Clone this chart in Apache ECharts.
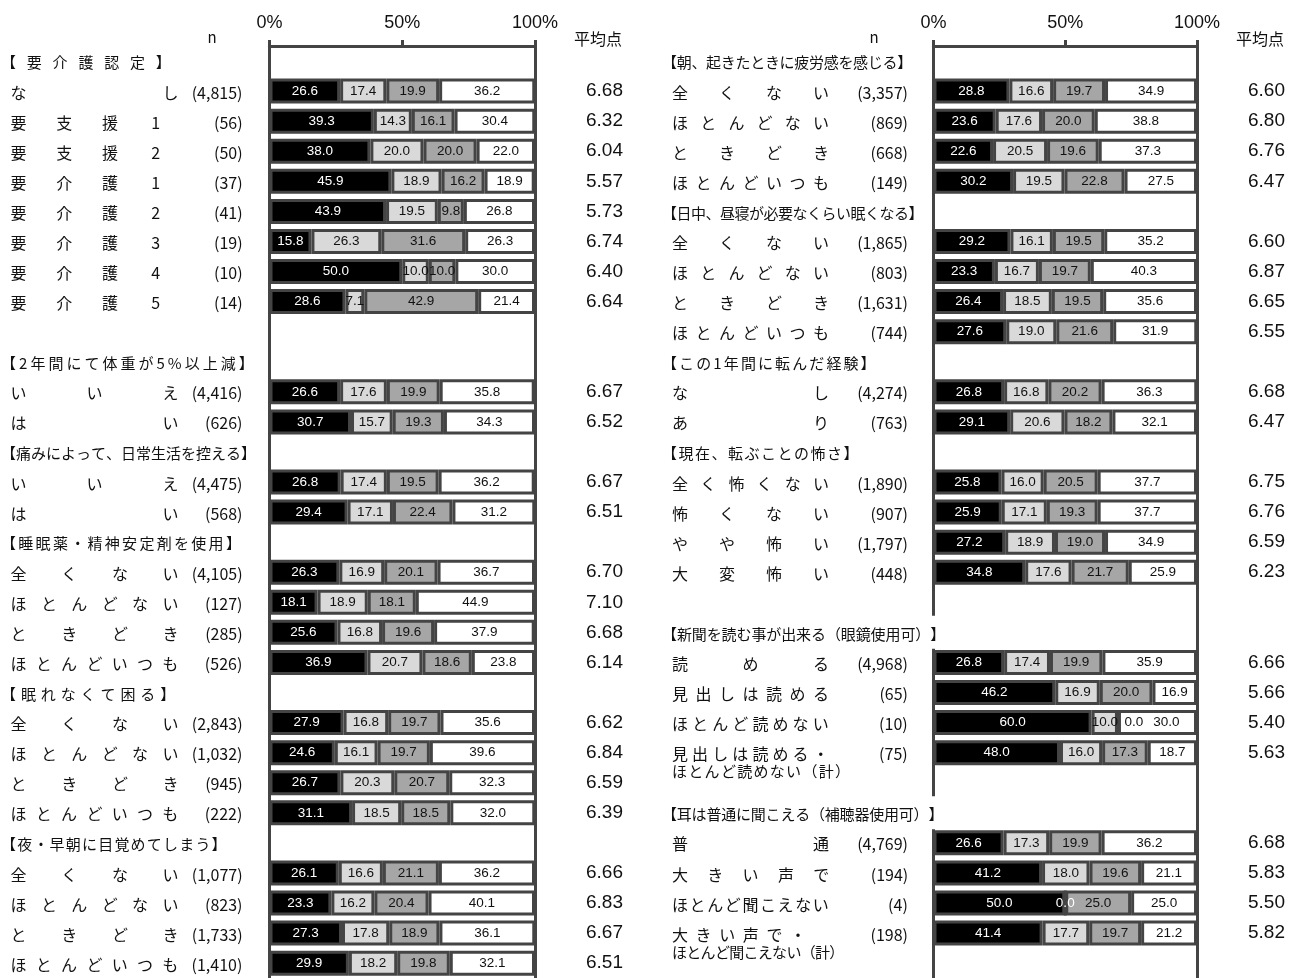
<!DOCTYPE html>
<html><head><meta charset="utf-8">
<script src="https://cdn.jsdelivr.net/npm/echarts@6/dist/echarts.min.js"></script>
<style>html,body{margin:0;padding:0;background:#fff}#c{width:1301px;height:978px}</style>
</head><body><div id="c"></div>
<script>
// ---------------- DATA ----------------
const tickLabels = ['0%', '50%', '100%'];

const leftNames = ['【要介護認定】','なし','要支援1','要支援2','要介護1','要介護2','要介護3','要介護4','要介護5','',
  '【2年間にて体重が5%以上減】','いいえ','はい','【痛みによって、日常生活を控える】','いいえ','はい',
  '【睡眠薬・精神安定剤を使用】','全くない','ほとんどない','ときどき','ほとんどいつも',
  '【眠れなくて困る】','全くない','ほとんどない','ときどき','ほとんどいつも',
  '【夜・早朝に目覚めてしまう】','全くない','ほとんどない','ときどき','ほとんどいつも',''];
const leftN = ['','4,815','56','50','37','41','19','10','14','','','4,416','626','','4,475','568','',
  '4,105','127','285','526','','2,843','1,032','945','222','','1,077','823','1,733','1,410',''];
const leftS1 = [null,26.6,39.3,38.0,45.9,43.9,15.8,50.0,28.6,null,null,26.6,30.7,null,26.8,29.4,null,26.3,18.1,25.6,36.9,null,27.9,24.6,26.7,31.1,null,26.1,23.3,27.3,29.9,null];
const leftS2 = [null,17.4,14.3,20.0,18.9,19.5,26.3,10.0,7.1,null,null,17.6,15.7,null,17.4,17.1,null,16.9,18.9,16.8,20.7,null,16.8,16.1,20.3,18.5,null,16.6,16.2,17.8,18.2,null];
const leftS3 = [null,19.9,16.1,20.0,16.2,9.8,31.6,10.0,42.9,null,null,19.9,19.3,null,19.5,22.4,null,20.1,18.1,19.6,18.6,null,19.7,19.7,20.7,18.5,null,21.1,20.4,18.9,19.8,null];
const leftS4 = [null,36.2,30.4,22.0,18.9,26.8,26.3,30.0,21.4,null,null,35.8,34.3,null,36.2,31.2,null,36.7,44.9,37.9,23.8,null,35.6,39.6,32.3,32.0,null,36.2,40.1,36.1,32.1,null];
const leftAvg = ['','6.68','6.32','6.04','5.57','5.73','6.74','6.40','6.64','','','6.67','6.52','','6.67','6.51','',
  '6.70','7.10','6.68','6.14','','6.62','6.84','6.59','6.39','','6.66','6.83','6.67','6.51',''];

const rightNames = ['【朝、起きたときに疲労感を感じる】','全くない','ほとんどない','ときどき','ほとんどいつも',
  '【日中、昼寝が必要なくらい眠くなる】','全くない','ほとんどない','ときどき','ほとんどいつも',
  '【この1年間に転んだ経験】','なし','あり','【現在、転ぶことの怖さ】','全く怖くない','怖くない','やや怖い','大変怖い','',
  '【新聞を読む事が出来る（眼鏡使用可）】','読める','見出しは読める','ほとんど読めない','見出しは読める・\nほとんど読めない（計）','',
  '【耳は普通に聞こえる（補聴器使用可）】','普通','大きい声で','ほとんど聞こえない','大きい声で・\nほとんど聞こえない（計）',''];
const rightN = ['','3,357','869','668','149','','1,865','803','1,631','744','','4,274','763','','1,890','907','1,797','448','',
  '','4,968','65','10','75','','','4,769','194','4','198',''];
const rightS1 = [null,28.8,23.6,22.6,30.2,null,29.2,23.3,26.4,27.6,null,26.8,29.1,null,25.8,25.9,27.2,34.8,null,null,26.8,46.2,60.0,48.0,null,null,26.6,41.2,50.0,41.4,null];
const rightS2 = [null,16.6,17.6,20.5,19.5,null,16.1,16.7,18.5,19.0,null,16.8,20.6,null,16.0,17.1,18.9,17.6,null,null,17.4,16.9,10.0,16.0,null,null,17.3,18.0,0.0,17.7,null];
const rightS3 = [null,19.7,20.0,19.6,22.8,null,19.5,19.7,19.5,21.6,null,20.2,18.2,null,20.5,19.3,19.0,21.7,null,null,19.9,20.0,0.0,17.3,null,null,19.9,19.6,25.0,19.7,null];
const rightS4 = [null,34.9,38.8,37.3,27.5,null,35.2,40.3,35.6,31.9,null,36.3,32.1,null,37.7,37.7,34.9,25.9,null,null,35.9,16.9,30.0,18.7,null,null,36.2,21.1,25.0,21.2,null];
const rightAvg = ['','6.60','6.80','6.76','6.47','','6.60','6.87','6.65','6.55','','6.68','6.47','','6.75','6.76','6.59','6.23','',
  '','6.66','5.66','5.40','5.63','','','6.68','5.83','5.50','5.82',''];

// ---------------- LAYOUT / STYLE ----------------
const PITCH = 30.07;
const LAYOUT = {
  L: {gridLeft: 269.5, gridWidth: 265.5, rows: 32, anchor: 1, nameStart: 10.5, nameW: 168, nRight: 242.5, avgMargin: 88},
  R: {gridLeft: 933.5, gridWidth: 263.5, rows: 31, anchor: 662, nameStart: 672, nameW: 157, nRight: 908, avgMargin: 88}
};
const headerW = {
  '【要介護認定】': 170, '【2年間にて体重が5%以上減】': 253, '【痛みによって、日常生活を控える】': 255,
  '【睡眠薬・精神安定剤を使用】': 240, '【眠れなくて困る】': 174, '【夜・早朝に目覚めてしまう】': 225,
  '【朝、起きたときに疲労感を感じる】': 251, '【日中、昼寝が必要なくらい眠くなる】': 261,
  '【この1年間に転んだ経験】': 214, '【現在、転ぶことの怖さ】': 197,
  '【新聞を読む事が出来る（眼鏡使用可）】': 284, '【耳は普通に聞こえる（補聴器使用可）】': 281
};
const nameWOverride = {'大きい声で・': 134, '要支援1': 153, '要支援2': 153, '要介護1': 153, '要介護2': 153,
  '要介護3': 153, '要介護4': 153, '要介護5': 153};
const line2W = {'ほとんど読めない（計）': 178, 'ほとんど聞こえない（計）': 172};

const JP = 'Noto Sans CJK JP';
const NUM = 'Liberation Sans';
const LINE = '#444';
const base = {
  a: {fontFamily: JP, fontSize: 16, lineHeight: 18, color: '#111'},
  h: {fontFamily: JP, fontSize: 15, lineHeight: 18, color: '#111'},
  b: {fontFamily: JP, fontSize: 15, lineHeight: 17, color: '#111'},
  s: {fontFamily: JP, fontSize: 10, lineHeight: 10, color: '#111'},
  n: {fontFamily: JP, fontSize: 16, lineHeight: 18, color: '#111', align: 'right'}
};
const fsOf = {a: 16, h: 15, b: 15};
const ctx = document.createElement('canvas').getContext('2d');
function measure(c, fs) { ctx.font = fs + 'px "' + JP + '"'; return ctx.measureText(c).width; }
const rich = {};
function tok(prefix, w, c, al) {
  const r = Math.round(w * 10);
  const key = prefix + r + (al ? 'c' : '');
  if (!rich[key]) rich[key] = Object.assign({}, base[prefix], {width: r / 10}, al ? {align: al} : {});
  return '{' + key + '|' + c + '}';
}
// names: every character takes a full cell; headers: natural widths, extra space shared out
function justify(text, W, prefix) {
  const chars = Array.from(text);
  const n = chars.length, fs = fsOf[prefix];
  const fixedCell = prefix === 'a';
  const widths = chars.map(c => fixedCell ? fs : measure(c, fs));
  if (n === 1) return tok(prefix, W, chars[0]);
  const sum = widths.reduce((a, b) => a + b, 0);
  const gap = (W - sum) / (n - 1);
  return chars.map((c, k) => {
    const half = fixedCell && measure(c, fs) < fs * 0.8;
    return tok(prefix, widths[k] + (k < n - 1 ? gap : 0), c, half && k === n - 1 ? 'center' : null);
  }).join('');
}
function buildLabel(side, name, n) {
  const L = LAYOUT[side];
  if (!name) return '';
  if (name.charAt(0) === '【') return justify(name, headerW[name], 'h');
  const lines = name.split('\n');
  const W = nameWOverride[lines[0]] || L.nameW;
  const sp = tok('s', L.nameStart - L.anchor, ' ');
  let s = sp + justify(lines[0], W, 'a');
  if (n) s += tok('n', L.nRight - (L.nameStart + W), '(' + n + ')');
  if (lines[1]) s += '\n' + sp + justify(lines[1], line2W[lines[1]], 'b');
  return s;
}
function yData(side, names) {
  const L = LAYOUT[side];
  return names.map((nm, i) => {
    const o = {value: String(i)};
    if (nm.indexOf('\n') >= 0) o.textStyle = {align: 'left', verticalAlign: 'middle', padding: [20, 0, 0, 0]};
    else if (nm.charAt(0) === '【' && L.anchor + headerW[nm] > L.gridLeft - 3)
      o.textStyle = {align: 'left', verticalAlign: 'middle', backgroundColor: '#fff', padding: [9, 0, 6, 0]};
    return o;
  });
}
const leftLabelStr = leftNames.map((nm, i) => buildLabel('L', nm, leftN[i]));
const rightLabelStr = rightNames.map((nm, i) => buildLabel('R', nm, rightN[i]));

const segColors = ['#000000', '#d9d9d9', '#a6a6a6', '#ffffff'];
const segLabelColors = ['#ffffff', '#111111', '#111111', '#111111'];
function itemOf(arrs, k, i) {
  const v = arrs[k][i];
  if (v === null) return '-';
  if (v === 0 && k === 1) return {value: v, label: {color: '#ffffff'}};
  if (v === 0 && k === 2) return {value: v, label: {offset: [16, 0]}};
  if (k === 3 && arrs[2][i] === 0) return {value: v, label: {offset: [9, 0]}};
  return v;
}
function makeSeries(side, arrs, gi) {
  return arrs.map((arr, k) => ({
    type: 'bar', xAxisIndex: gi, yAxisIndex: gi * 2, stack: side, barWidth: 25,
    itemStyle: {color: segColors[k], borderColor: LINE, borderWidth: 3},
    label: {show: true, position: 'inside', fontSize: 13.5, fontFamily: NUM, color: segLabelColors[k],
      formatter: p => (typeof p.value === 'number' && !isNaN(p.value)) ? p.value.toFixed(1) : ''},
    data: arr.map((v, i) => itemOf(arrs, k, i)),
    animation: false
  }));
}
function xAxisOf(gi) {
  return {gridIndex: gi, type: 'value', position: 'top', min: 0, max: 100, interval: 50,
    axisLine: {show: true, onZero: false, lineStyle: {color: LINE, width: 3}},
    axisTick: {show: true, length: 6, lineStyle: {color: LINE, width: 3}},
    splitLine: {show: false},
    axisLabel: {fontSize: 18, fontFamily: NUM, color: '#111', margin: 14,
      formatter: v => tickLabels[Math.round(v / 50)]}};
}
function yAxesOf(side, gi, names, avgs, labelStr) {
  const L = LAYOUT[side];
  const idx = names.map((_, i) => String(i));
  return [
    {gridIndex: gi, type: 'category', inverse: true, position: 'left', data: yData(side, names),
      axisLine: {show: true, onZero: false, lineStyle: {color: LINE, width: 3}}, axisTick: {show: false},
      splitLine: {show: false},
      axisLabel: {interval: 0, align: 'left', margin: L.gridLeft - L.anchor, padding: [3, 0, 0, 0],
        formatter: v => labelStr[+v] || '', rich: rich}},
    {gridIndex: gi, type: 'category', inverse: true, position: 'right', data: idx,
      axisLine: {show: true, onZero: false, lineStyle: {color: LINE, width: 3}}, axisTick: {show: false},
      splitLine: {show: false},
      axisLabel: {interval: 0, align: 'right', margin: L.avgMargin, padding: [3, 0, 0, 0],
        fontSize: 19, fontFamily: NUM, color: '#111', formatter: v => avgs[+v] || ''}}
  ];
}

const chart = echarts.init(document.getElementById('c'), null, {renderer: 'canvas'});
chart.setOption({
  animation: false,
  backgroundColor: '#fff',
  grid: [
    {left: LAYOUT.L.gridLeft, top: 46, width: LAYOUT.L.gridWidth, height: LAYOUT.L.rows * PITCH, outerBoundsMode: 'none', containLabel: false},
    {left: LAYOUT.R.gridLeft, top: 46, width: LAYOUT.R.gridWidth, height: LAYOUT.R.rows * PITCH, outerBoundsMode: 'none', containLabel: false}
  ],
  xAxis: [xAxisOf(0), xAxisOf(1)],
  yAxis: yAxesOf('L', 0, leftNames, leftAvg, leftLabelStr).concat(yAxesOf('R', 1, rightNames, rightAvg, rightLabelStr)),
  series: makeSeries('L', [leftS1, leftS2, leftS3, leftS4], 0).concat(makeSeries('R', [rightS1, rightS2, rightS3, rightS4], 1)),
  graphic: [
    {type: 'text', x: 212, y: 37, style: {text: 'n', fontSize: 15, fontFamily: JP, fill: '#111', align: 'center', verticalAlign: 'middle', textAlign: 'center', textVerticalAlign: 'middle'}},
    {type: 'text', x: 874, y: 37, style: {text: 'n', fontSize: 15, fontFamily: JP, fill: '#111', align: 'center', verticalAlign: 'middle', textAlign: 'center', textVerticalAlign: 'middle'}},
    {type: 'text', x: 598, y: 39, style: {text: '平均点', fontSize: 16, fontFamily: JP, fill: '#111', align: 'center', verticalAlign: 'middle', textAlign: 'center', textVerticalAlign: 'middle'}},
    {type: 'text', x: 1260, y: 39, style: {text: '平均点', fontSize: 16, fontFamily: JP, fill: '#111', align: 'center', verticalAlign: 'middle', textAlign: 'center', textVerticalAlign: 'middle'}}
  ]
});
</script></body></html>
